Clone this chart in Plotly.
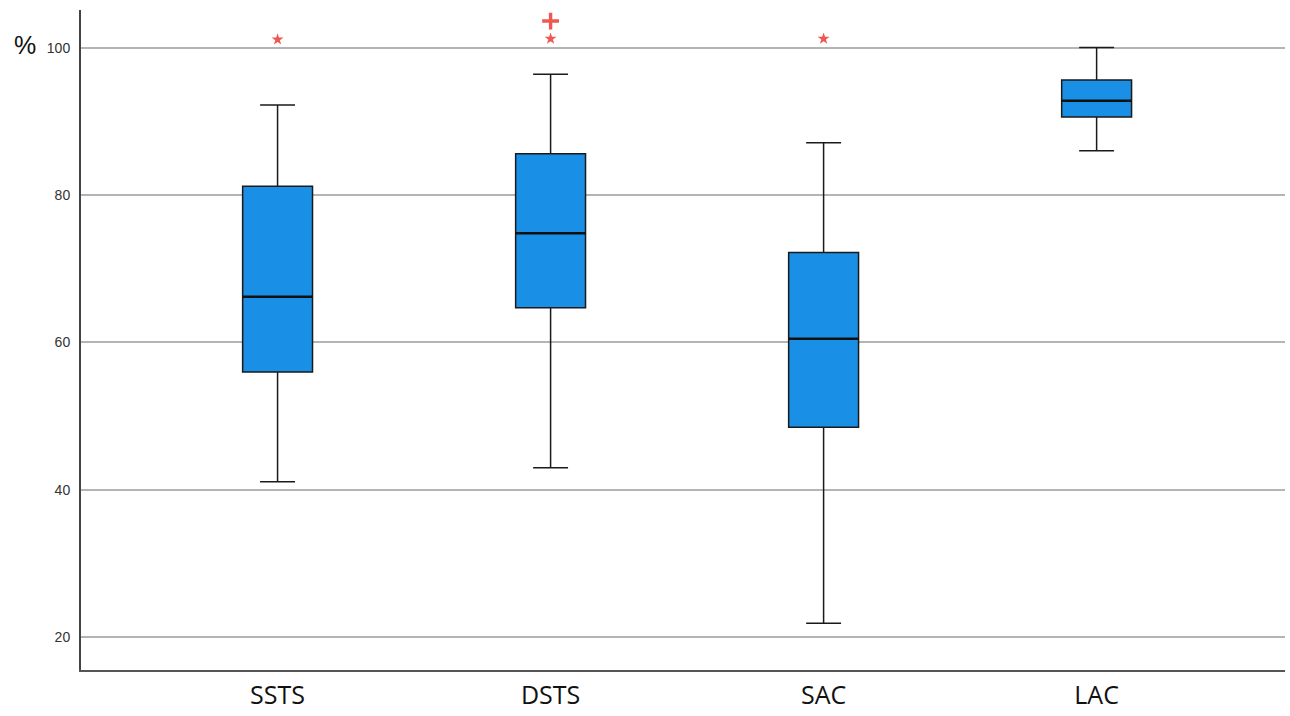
import plotly.graph_objects as go

categories = ["SSTS", "DSTS", "SAC", "LAC"]
lower_whisker = [41.1, 43.0, 21.9, 86.0]
q1 = [56.0, 64.7, 48.5, 90.6]
median = [66.2, 74.8, 60.5, 92.8]
q3 = [81.2, 85.6, 72.2, 95.6]
upper_whisker = [92.2, 96.4, 87.1, 100.0]

# outliers: (category, value, symbol)
outlier_cats = ["SSTS", "DSTS", "DSTS", "SAC"]
outlier_vals = [101.1, 101.2, 103.6, 101.2]
outlier_symbols = ["star", "star", "cross-thin-open", "star"]

y_ticks = [20, 40, 60, 80, 100]

BOX_FILL = "#1A8FE6"
RED = "#E8100A"
idx = {c: i for i, c in enumerate(categories)}

fig = go.Figure()
fig.add_trace(go.Box(
    x=list(range(len(categories))),
    lowerfence=lower_whisker,
    q1=q1,
    median=median,
    q3=q3,
    upperfence=upper_whisker,
    fillcolor=BOX_FILL,
    line=dict(color="#1a1a1a", width=1.5),
    width=0.256,
    whiskerwidth=0.5,
    boxpoints=False,
    showlegend=False,
    hoverinfo="skip",
))

# thicker median lines
w = 0.256
for i, m in enumerate(median):
    fig.add_trace(go.Scatter(
        x=[i - w / 2, i + w / 2], y=[m, m], mode="lines",
        line=dict(color="#111111", width=2.5), showlegend=False, hoverinfo="skip",
    ))

fig.add_trace(go.Scatter(
    x=[idx[c] for c in outlier_cats],
    y=outlier_vals,
    mode="markers",
    marker=dict(symbol=outlier_symbols, size=[9, 9, 12, 9], color=RED,
                line=dict(color=RED, width=[0, 0, 3.4, 0])),
    showlegend=False,
    hoverinfo="skip",
))

fig.update_layout(
    width=1290, height=716,
    margin=dict(l=81, r=5, t=10, b=39),
    paper_bgcolor="white",
    plot_bgcolor="white",
    font=dict(family="Liberation Sans, Arial, sans-serif"),
)
fig.update_xaxes(
    range=[-0.72, 3.69],
    tickmode="array",
    tickvals=list(range(len(categories))),
    ticktext=categories,
    tickfont=dict(size=25, color="#111111", family="Open Sans, Liberation Sans, sans-serif"),
    showgrid=False, zeroline=False,
    showline=True, linecolor="#555555", linewidth=2,
    ticks="", ticklabelstandoff=2,
)
fig.update_yaxes(
    range=[15.57, 105.1],
    tickmode="array",
    tickvals=y_ticks,
    tickfont=dict(size=14, color="#333333", family="Liberation Sans, Arial, sans-serif"),
    showgrid=True, gridcolor="#B4B4B4", gridwidth=1.5,
    zeroline=False,
    showline=True, linecolor="#444444", linewidth=2,
    ticks="", ticklabelstandoff=6,
)
fig.add_annotation(
    text="%", xref="paper", yref="y", x=-(81 - 25) / 1204, y=100.3,
    showarrow=False, font=dict(size=25, color="#111111", family="Liberation Sans, Arial, sans-serif"),
    xanchor="center", yanchor="middle",
)

fig.write_html(
    "out.html",
    config={"displayModeBar": False},
    post_script="document.body.style.margin='0';document.body.style.overflow='hidden';",
)
